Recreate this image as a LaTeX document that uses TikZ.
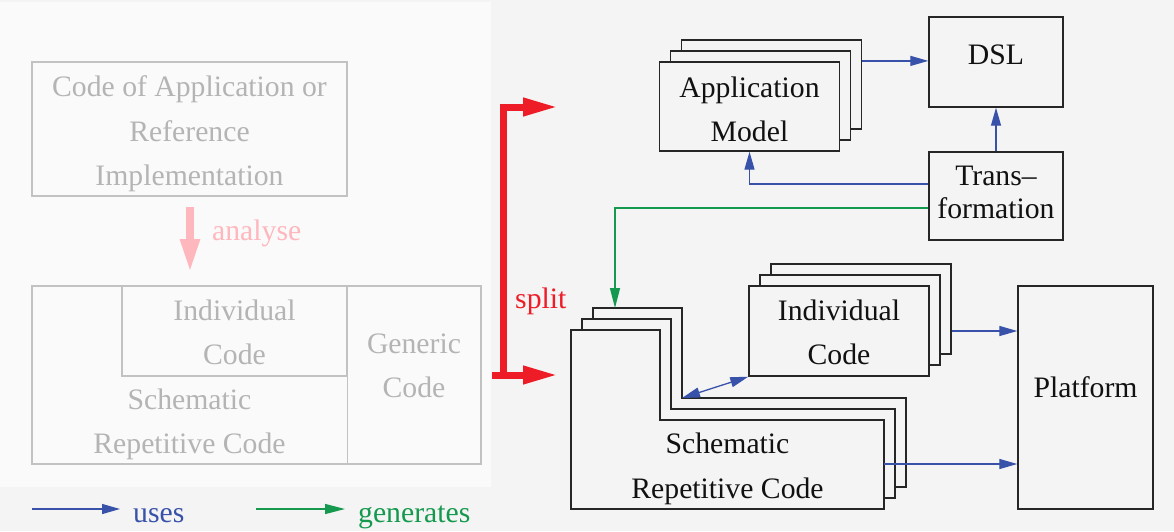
\documentclass[tikz,border=0pt]{standalone}
\usepackage{fontspec}
\setmainfont{Liberation Serif}
\usetikzlibrary{arrows.meta}
\definecolor{bgc}{HTML}{F4F4F4}
\definecolor{panelc}{HTML}{FAFAFA}
\definecolor{gtext}{HTML}{B4B4B4}
\definecolor{glinec}{HTML}{C2C2C2}
\definecolor{pinkc}{HTML}{FFB7BE}
\definecolor{redc}{HTML}{EE1C27}
\definecolor{bluec}{HTML}{3852AA}
\definecolor{greenc}{HTML}{15994E}
\definecolor{linec}{HTML}{262626}
\definecolor{textc}{HTML}{111111}
\newcommand\mainfs{\fontsize{29.7}{44.5}\selectfont}
\newcommand\tophgt[1]{\rule{0pt}{#1}}
\newcommand\botdpt[1]{\rule[-#1]{0pt}{#1}}
\begin{document}
\begin{tikzpicture}[x=1pt,y=-1pt,
  box/.style={draw=linec, line width=1.4pt, fill=bgc, inner sep=0pt, align=center, font=\mainfs, text=textc},
  gbox/.style={draw=glinec, line width=1.4pt, inner sep=0pt, align=center, font=\mainfs, text=gtext},
  gtxt/.style={inner sep=0pt, align=center, font=\mainfs, text=gtext},
  btxt/.style={inner sep=0pt, align=center, font=\mainfs, text=textc},
  lshape/.style={draw=linec, line width=1.4pt, fill=bgc, line join=miter},
  glineS/.style={draw=glinec, line width=1.4pt},
  uses/.style={draw=bluec, line width=1.3pt, -{Triangle[length=18pt,width=10pt]}},
  usesboth/.style={draw=bluec, line width=1.3pt, {Triangle[length=18pt,width=10pt]}-{Triangle[length=18pt,width=10pt]}},
  gens/.style={draw=greenc, line width=1.3pt, -{Triangle[length=20pt,width=10pt]}},
  splitarrow/.style={draw=redc, line width=7pt, line join=miter, -{Triangle[length=35pt,width=17pt]}},
  analysearrow/.style={draw=pinkc, line width=8pt, -{Triangle[length=34pt,width=18pt]}}
]
\useasboundingbox (0,0) rectangle (1174,531);
\fill[bgc] (0,0) rectangle (1174,531);
\fill[panelc] (0,2) rectangle (491,487);

% ---------- left panel (faded) ----------
\node[gbox, minimum width=315pt, minimum height=134pt] (codeL) at (189.5,129)
  {\tophgt{31pt}Code of Application or\\Reference\\Implementation\botdpt{7pt}};
\coordinate (anA) at (190,207);
\coordinate (anB) at (190,273);
\draw[analysearrow] (anA) -- (anB);
\node[inner sep=0pt, font=\mainfs, text=pinkc, anchor=west] (analyseT) at (212,232.5)
  {\tophgt{25pt}analyse\botdpt{10pt}};

\node[gbox, minimum width=449pt, minimum height=178pt] (bigL) at (256.5,375) {};
\node[gbox, minimum width=225pt, minimum height=90pt] (indL) at (234.5,331)
  {\tophgt{25pt}Individual\\Code\botdpt{2pt}};
\draw[glineS] (indL.north east) -- (indL.north east |- bigL.south);
\node[gtxt] (schL) at (189.5,423.75) {\tophgt{25pt}Schematic\\Repetitive Code\botdpt{10pt}};
\node[gtxt] (genL) at (414,367.75) {\tophgt{25pt}Generic\\Code\botdpt{10pt}};

% ---------- legend ----------
\coordinate (uA) at (32,509);
\coordinate (uB) at (120,509);
\draw[uses] (uA) -- (uB);
\node[inner sep=0pt, font=\mainfs, text=bluec, anchor=west] (usesT) at (133,514.5)
  {\tophgt{25pt}uses\botdpt{10pt}};
\coordinate (gA) at (256,509);
\coordinate (gB) at (345,509);
\draw[gens] (gA) -- (gB);
\node[inner sep=0pt, font=\mainfs, text=greenc, anchor=west] (gensT) at (358,514.5)
  {\tophgt{25pt}generates\botdpt{10pt}};

% ---------- split arrow ----------
\coordinate (splitV) at (503,378.5);
\coordinate (splitC) at (503,107);
\coordinate (splitTop) at (558,107);
\coordinate (splitS) at (492,375);
\coordinate (splitBot) at (558,375);
\draw[splitarrow] (splitV) -- (splitC) -- (splitTop);
\draw[splitarrow] (splitS) -- (splitBot);
\node[inner sep=0pt, font=\mainfs, text=redc, anchor=west] (splitT) at (515,300.5)
  {\tophgt{25pt}split\botdpt{10pt}};

% ---------- application model stack ----------
\node[box, minimum width=180pt, minimum height=89pt] (appB) at (771.5,84.5) {};
\node[box, minimum width=180pt, minimum height=89pt] (appM) at (760.5,95.5) {};
\node[box, minimum width=180pt, minimum height=89pt] (appF) at (749.5,106.5)
  {\tophgt{29pt}Application\\Model\botdpt{3pt}};

\node[box, minimum width=134pt, minimum height=90pt] (dsl) at (996,62)
  {\tophgt{25pt}DSL\botdpt{21pt}};
\node[box, minimum width=134pt, minimum height=88pt, font=\fontsize{29.7}{33}\selectfont] (trans) at (996,196)
  {\tophgt{25pt}Trans–\\formation\botdpt{14pt}};

% ---------- individual code stack ----------
\node[box, minimum width=180pt, minimum height=90pt] (indB) at (861,309) {};
\node[box, minimum width=180pt, minimum height=90pt] (indM) at (850,320) {};
\node[box, minimum width=180pt, minimum height=90pt] (indF) at (839,331)
  {\tophgt{27pt}Individual\\Code\botdpt{4pt}};

% ---------- schematic repetitive code stack ----------
\def\Lpath{(571,330) -- (660,330) -- (660,420) -- (884,420) -- (884,509) -- (571,509) -- cycle}
\draw[lshape, shift={(22,-22)}] \Lpath;
\draw[lshape, shift={(11,-11)}] \Lpath;
\draw[lshape] \Lpath;
\coordinate (schBtop) at (615,308);
\coordinate (schBnotch) at (682,398);
\coordinate (schFright) at (884,464);
\node[btxt] (schR) at (727.5,468.5) {\tophgt{25pt}Schematic\\Repetitive Code\botdpt{10pt}};

% ---------- platform ----------
\node[box, minimum width=135pt, minimum height=223pt] (plat) at (1085.5,397.5)
  {\tophgt{25pt}Platform\botdpt{26pt}};

% ---------- connectors ----------
\draw[uses] ([yshift=0.4pt]appB.east |- appF.north) -- ([yshift=0.4pt]dsl.west |- appF.north);
\draw[uses] (trans.north) -- (dsl.south);
\draw[uses] ([yshift=12pt]trans.west) -| (appF.south);
\draw[gens] ([yshift=-12pt]trans.west) -| (schBtop);
\draw[usesboth] (schBnotch) -- (indF.south west);
\draw[uses] (indB.east |- indF.center) -- (plat.west |- indF.center);
\draw[uses] (schFright) -- (plat.west |- schFright);
\end{tikzpicture}
\end{document}
